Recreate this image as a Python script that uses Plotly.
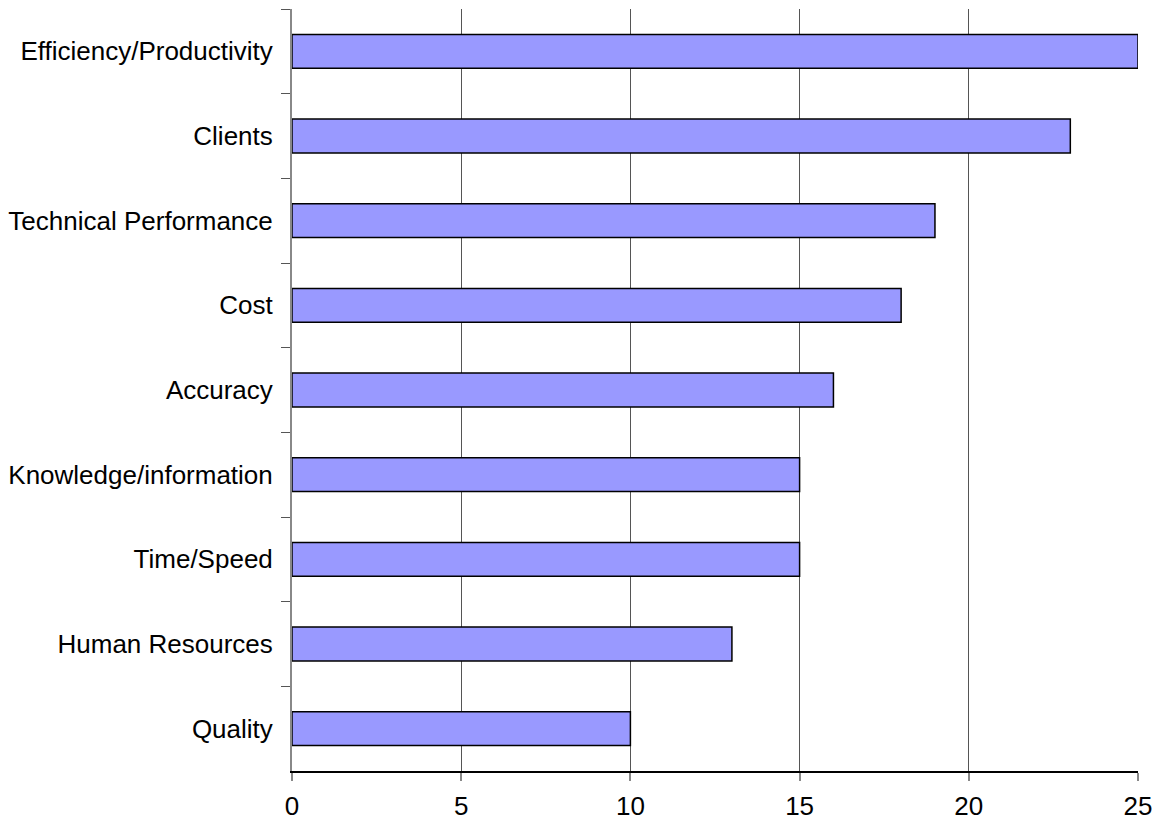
import plotly.graph_objects as go

categories = ["Efficiency/Productivity", "Clients", "Technical Performance", "Cost",
              "Accuracy", "Knowledge/information", "Time/Speed", "Human Resources", "Quality"]
values = [25, 23, 19, 18, 16, 15, 15, 13, 10]
x_ticks = [0, 5, 10, 15, 20, 25]

fig = go.Figure(go.Bar(
    x=values, y=categories, orientation="h",
    marker=dict(color="#9999FF", line=dict(color="black", width=1.5)),
))

fig.update_layout(
    width=1164, height=821,
    margin=dict(l=292, r=26, t=9, b=50),
    paper_bgcolor="white", plot_bgcolor="white",
    bargap=0.6,
    showlegend=False,
    font=dict(family="Liberation Sans, Arial, sans-serif", size=26, color="black"),
)
fig.update_xaxes(
    range=[0, 25], tickvals=x_ticks, showgrid=True, gridcolor="#555555", gridwidth=1,
    showline=True, linecolor="black", linewidth=1.5,
    ticks="outside", ticklen=8, tickcolor="#888888", tickwidth=1.5,
    zeroline=False, ticklabelstandoff=3, automargin=False,
)
fig.update_yaxes(
    categoryorder="array", categoryarray=categories, autorange="reversed",
    showline=True, linecolor="#888888", linewidth=2,
    ticks="outside", tickson="boundaries", ticklen=9, tickcolor="#555555", tickwidth=1,
    showgrid=False, ticklabelstandoff=12, automargin=False,
)

fig.write_html("out.html")
